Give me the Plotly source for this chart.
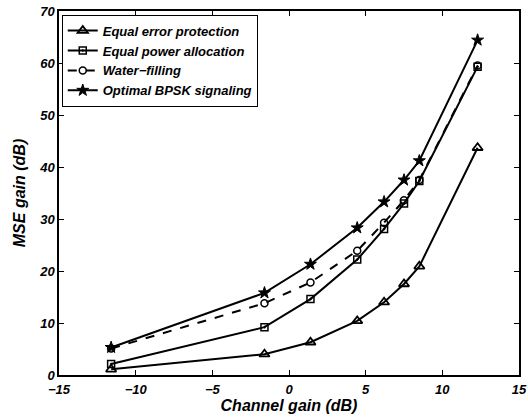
import plotly.graph_objects as go

x_vals = [-11.6, -1.6, 1.4, 4.45, 6.2, 7.5, 8.5, 12.3]
equal_error = [1.1, 4.0, 6.3, 10.4, 14.0, 17.5, 20.9, 43.7]
equal_power = [2.1, 9.2, 14.6, 22.2, 28.1, 33.0, 37.3, 59.3]
water_filling = [5.1, 13.8, 17.8, 23.9, 29.3, 33.6, 37.5, 59.5]
optimal_bpsk = [5.3, 15.8, 21.3, 28.3, 33.3, 37.5, 41.2, 64.4]

names = ["Equal error protection", "Equal power allocation", "Water\u2212filling", "Optimal BPSK signaling"]
series = [equal_error, equal_power, water_filling, optimal_bpsk]
symbols = ["triangle-up-open", "square-open-dot", "circle-open", "star"]
dashes = ["solid", "solid", "dash", "solid"]
sizes = [9, 7, 7, 9]
mlw = [1.8, 1.5, 1.5, 1]

fig = go.Figure()
for n, s, sym, d, sz, lw in zip(names, series, symbols, dashes, sizes, mlw):
    fig.add_trace(go.Scatter(
        x=x_vals, y=s, name=n, mode="lines+markers",
        line=dict(color="black", width=2, dash=d),
        marker=dict(symbol=sym, size=sz, color="black", line=dict(color="black", width=lw)),
    ))

font_family = "Liberation Sans, Arial, sans-serif"
bi = dict(family=font_family, color="black", weight="bold", style="italic")
fig.update_layout(
    width=528, height=419,
    margin=dict(l=59, r=9, t=11, b=44, autoexpand=False),
    plot_bgcolor="white", paper_bgcolor="white",
    font=dict(size=12, **bi),
    legend=dict(
        x=0.006, y=0.99, xanchor="left", yanchor="top",
        bordercolor="black", borderwidth=1, bgcolor="white",
        font=dict(size=13, **bi),
        tracegroupgap=0, itemwidth=30,
    ),
    xaxis=dict(
        range=[-15, 15], tickvals=[-15, -10, -5, 0, 5, 10, 15],
        ticktext=["\u221215", "\u221210", "\u22125", "0", "5", "10", "15"],
        tickfont=dict(size=13, **bi), automargin=False, ticklabelstandoff=2,
        ticks="inside", ticklen=5, tickwidth=1, tickcolor="black",
        showline=True, linecolor="black", linewidth=1.5, mirror="ticks",
        showgrid=False, zeroline=False,
        title=dict(text="Channel gain (dB)", font=dict(size=16, **bi), standoff=2),
    ),
    yaxis=dict(
        range=[0, 70], tickvals=[0, 10, 20, 30, 40, 50, 60, 70],
        tickfont=dict(size=13, **bi), automargin=False,
        ticks="inside", ticklen=5, tickwidth=1, tickcolor="black",
        showline=True, linecolor="black", linewidth=1.5, mirror="ticks",
        showgrid=False, zeroline=False,
        title=dict(text="MSE gain (dB)", font=dict(size=16, **bi), standoff=10),
    ),
)

fig.write_html("out.html", config={"displayModeBar": False},
               post_script="document.body.style.margin='0';")
